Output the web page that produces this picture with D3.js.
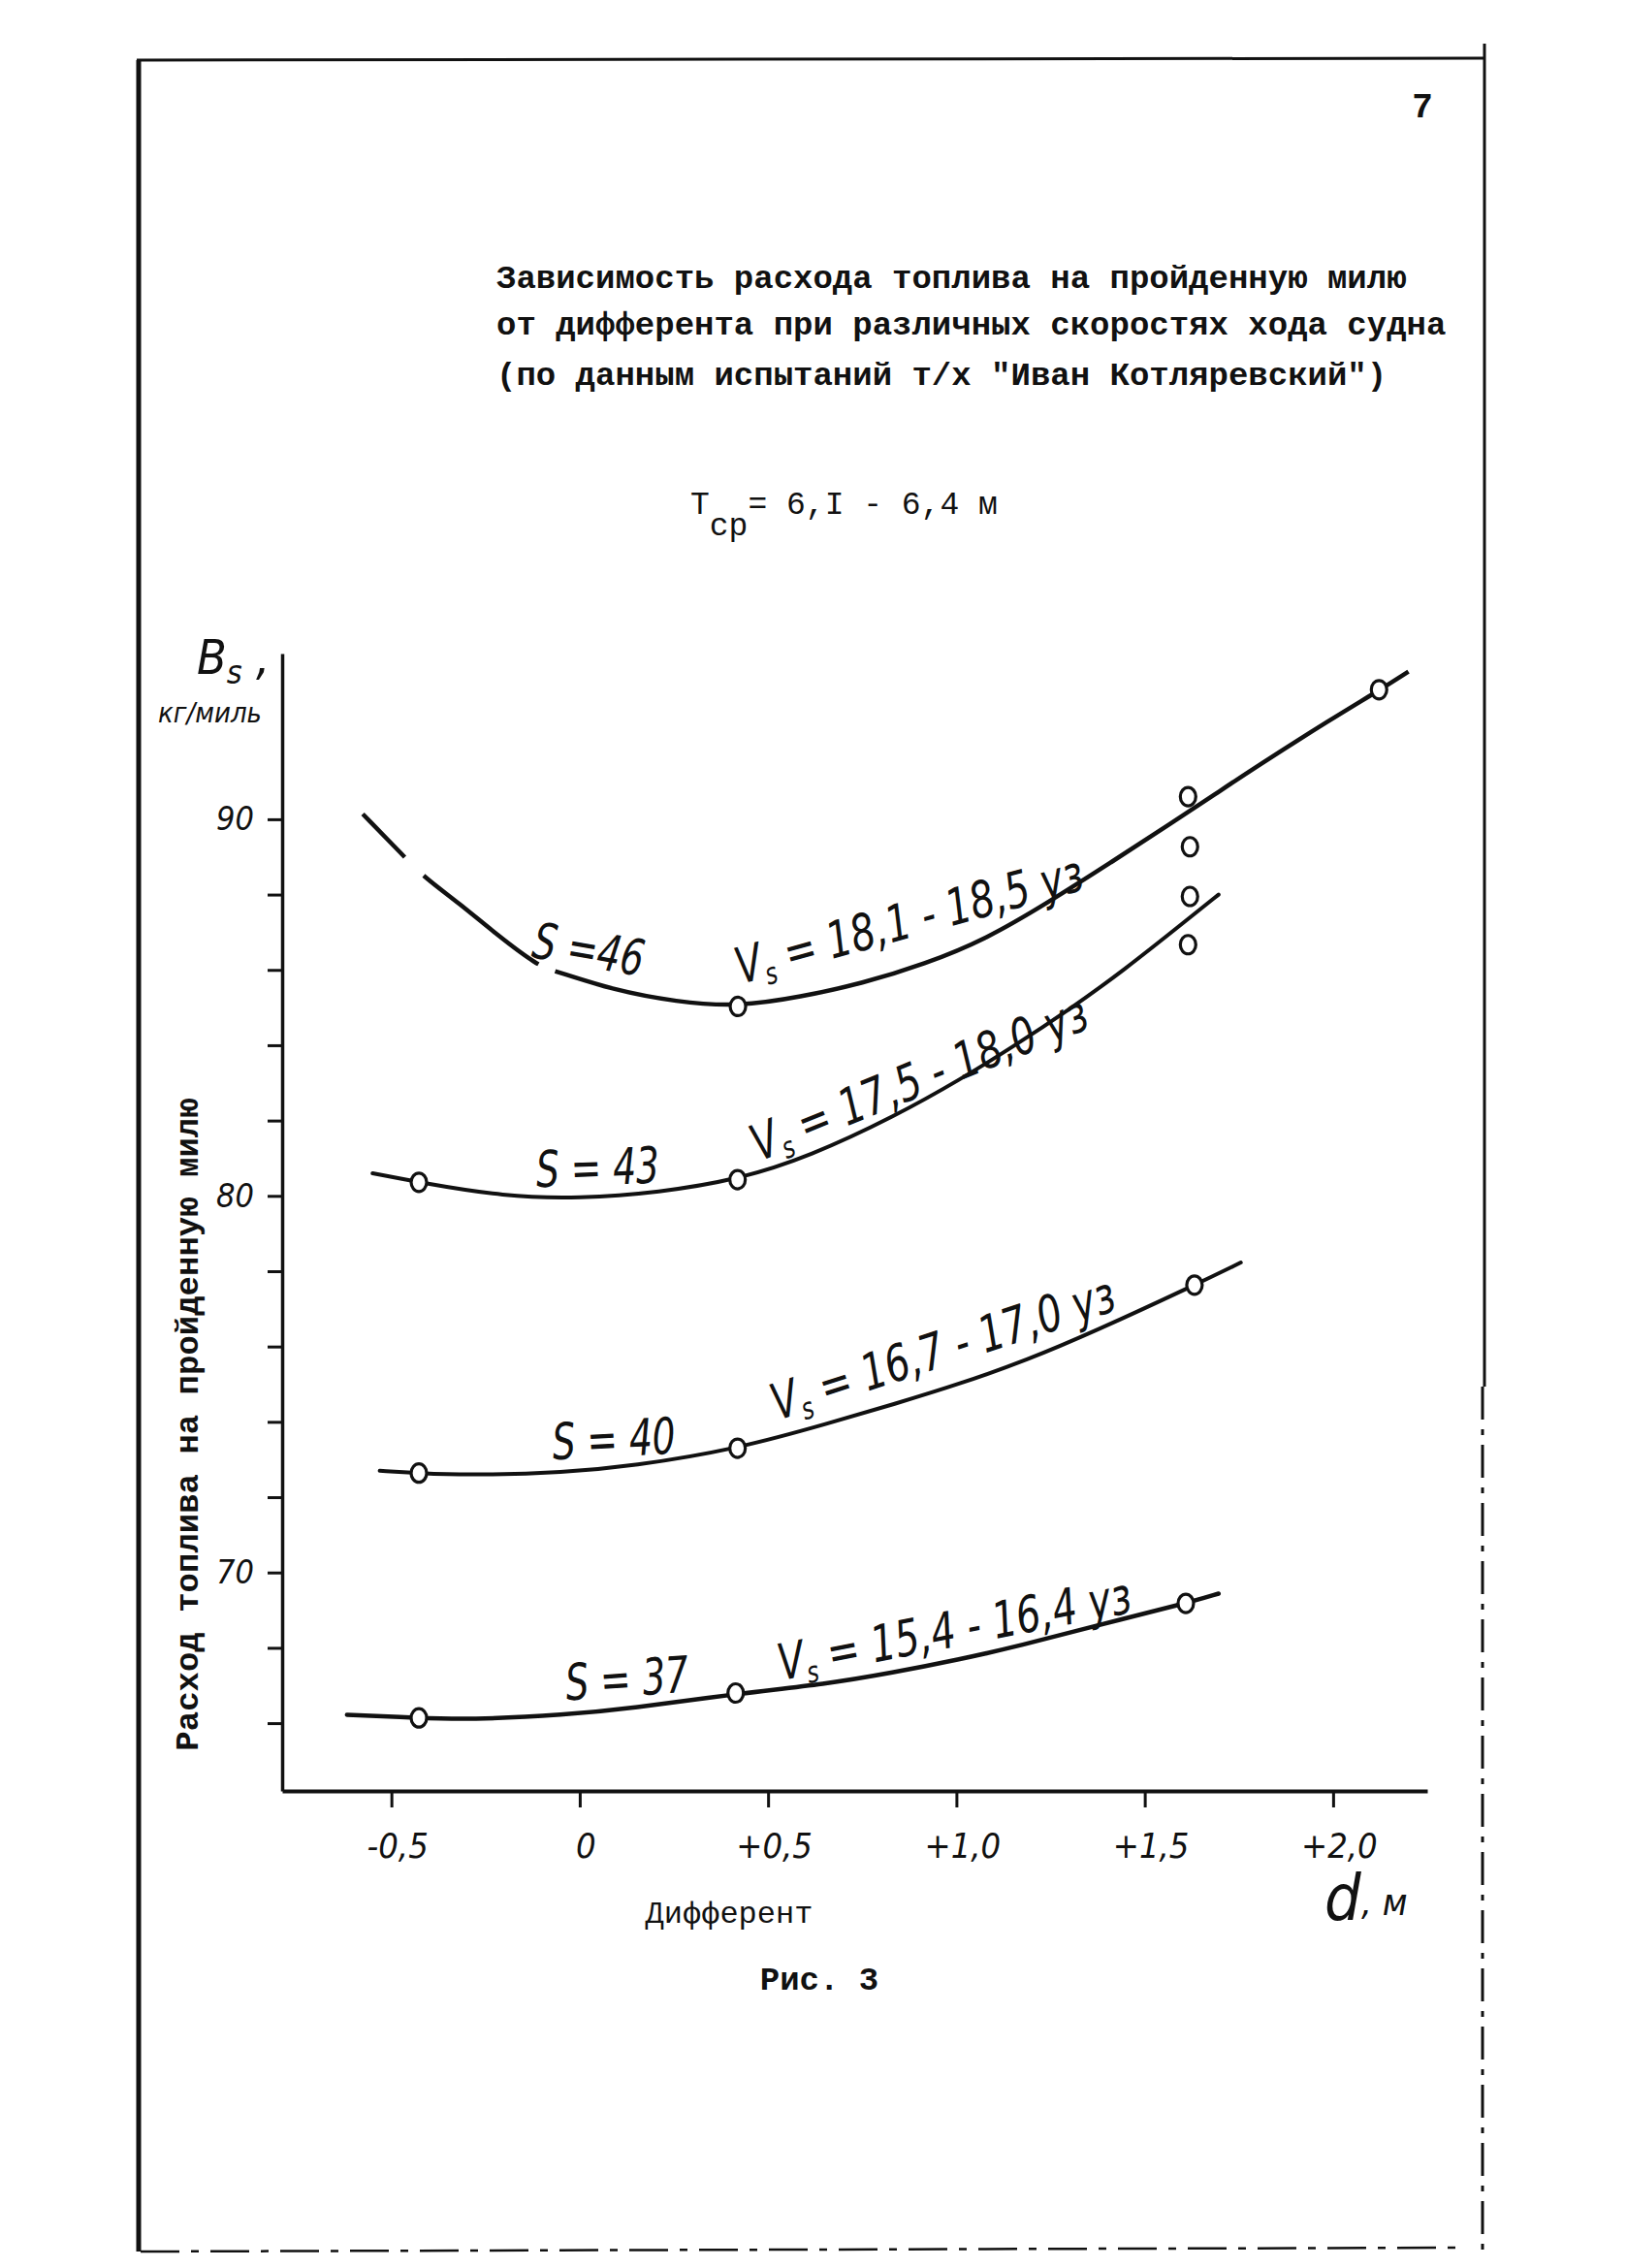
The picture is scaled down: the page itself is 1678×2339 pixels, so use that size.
<!DOCTYPE html>
<html><head><meta charset="utf-8">
<script src="https://cdn.jsdelivr.net/npm/d3@7"></script>
<style>
html,body{margin:0;padding:0;background:#fff;}
svg{display:block;}
.tw{font-family:'Liberation Mono','DejaVu Sans Mono',monospace;font-weight:bold;fill:#111;}
.twn{font-family:'Liberation Mono','DejaVu Sans Mono',monospace;font-weight:normal;fill:#111;}
.hw{font-family:'Liberation Sans Narrow','DejaVu Sans Condensed','Liberation Sans',sans-serif;font-style:italic;fill:#111;}
</style>
</head><body>
<script>
// ---------- data ----------
const titleLines = [
  "Зависимость расхода топлива на пройденную милю",
  "от дифферента при различных скоростях хода судна",
  "(по данным испытаний т/х \"Иван Котляревский\")"
];
const xTickValues = [-0.5, 0, 0.5, 1.0, 1.5, 2.0];
const xTickLabels = ["-0,5", "0", "+0,5", "+1,0", "+1,5", "+2,0"];
const yTickValues = [66, 68, 70, 72, 74, 76, 78, 80, 82, 84, 86, 88, 90];
const yTickLabels = ["", "", "70", "", "", "", "", "80", "", "", "", "", "90"];

// S = 46 (Vs = 18,1 - 18,5 уз)
const s46CurveX = [-0.576, -0.465, -0.414, -0.32, -0.222, -0.11, -0.065, 0.091, 0.256, 0.421, 0.586, 0.75, 0.915, 1.08, 1.245, 1.41, 1.574, 1.686, 1.80, 1.995, 2.122, 2.20];
const s46CurveY = [90.14, 89.0, 88.47, 87.77, 86.95, 86.10, 85.97, 85.46, 85.15, 85.02, 85.28, 85.64, 86.15, 86.82, 87.80, 88.85, 89.92, 90.66, 91.42, 92.66, 93.42, 93.92];
const s46PointX = [0.42, 1.615, 1.62, 2.122];
const s46PointY = [85.03, 90.6, 89.27, 93.44];

// S = 43 (Vs = 17,5 - 18,0 уз)
const s43CurveX = [-0.55, -0.427, -0.2, 0.0, 0.21, 0.419, 0.611, 0.838, 1.012, 1.152, 1.30, 1.442, 1.615, 1.696];
const s43CurveY = [80.6, 80.36, 79.98, 79.93, 80.09, 80.43, 81.05, 82.12, 83.10, 83.97, 84.95, 85.97, 87.35, 88.0];
const s43PointX = [-0.427, 0.419, 1.62, 1.615];
const s43PointY = [80.36, 80.43, 87.95, 86.67];

// S = 40 (Vs = 16,7 - 17,0 уз)
const s40CurveX = [-0.531, -0.427, -0.297, -0.037, 0.136, 0.419, 0.664, 0.838, 1.013, 1.187, 1.362, 1.632, 1.755];
const s40CurveY = [72.70, 72.64, 72.58, 72.66, 72.82, 73.28, 73.97, 74.48, 75.02, 75.64, 76.38, 77.63, 78.23];
const s40PointX = [-0.427, 0.419, 1.632];
const s40PointY = [72.64, 73.30, 77.63];

// S = 37 (Vs = 15,4 - 16,4 уз)
const s37CurveX = [-0.618, -0.427, -0.297, -0.037, 0.136, 0.414, 0.656, 0.83, 1.003, 1.176, 1.35, 1.609, 1.696];
const s37CurveY = [66.22, 66.14, 66.09, 66.22, 66.39, 66.78, 67.04, 67.34, 67.68, 68.07, 68.54, 69.18, 69.44];
const s37PointX = [-0.427, 0.414, 1.609];
const s37PointY = [66.14, 66.80, 69.18];

// ---------- drawing ----------
const W = 1678, H = 2339;
const svg = d3.select("body").append("svg").attr("width", W).attr("height", H);

const x = d3.scaleLinear().domain([-0.79, 2.25]).range([291, 1472]);
const y = d3.scaleLinear().domain([64.2, 94.4]).range([1847, 674]);

// page frame
const frame = svg.append("g").attr("stroke", "#111").attr("fill", "none");
frame.append("line").attr("x1", 143).attr("y1", 62).attr("x2", 143).attr("y2", 2322).attr("stroke-width", 5);
frame.append("line").attr("x1", 141).attr("y1", 62).attr("x2", 1531).attr("y2", 60).attr("stroke-width", 3);
frame.append("line").attr("x1", 1531).attr("y1", 45).attr("x2", 1531).attr("y2", 1430).attr("stroke-width", 3);
frame.append("line").attr("x1", 1529).attr("y1", 1430).attr("x2", 1529).attr("y2", 2330).attr("stroke-width", 3).attr("stroke-dasharray", "34 10 6 10");
frame.append("line").attr("x1", 145).attr("y1", 2322).attr("x2", 1512).attr("y2", 2318).attr("stroke-width", 2.5).attr("stroke-dasharray", "40 12 8 12");

// page number
svg.append("text").attr("class", "tw").attr("x", 1467).attr("y", 121).attr("font-size", 36).attr("text-anchor", "middle").text("7");

// title
const titleBase = [297, 345, 397];
titleLines.forEach((t, i) => {
  svg.append("text").attr("class", "tw").attr("x", 512).attr("y", titleBase[i]).attr("font-size", 34).text(t);
});

// T_cp
const tcp = svg.append("text").attr("class", "twn").attr("x", 712).attr("y", 530).attr("font-size", 33);
tcp.append("tspan").text("T");
tcp.append("tspan").attr("dy", 22).text("ср");
tcp.append("tspan").attr("dy", -22).text("= 6,I - 6,4 м");

// axes
const yAxis = d3.axisLeft(y).tickValues(yTickValues).tickSize(15).tickSizeOuter(0).tickPadding(14)
  .tickFormat((d, i) => yTickLabels[i]);
const gy = svg.append("g").attr("transform", `translate(${x(-0.79)},0)`).call(yAxis);
gy.select(".domain").attr("stroke", "#111").attr("stroke-width", 3.5);
gy.selectAll(".tick line").attr("stroke", "#111").attr("stroke-width", 3);
gy.selectAll(".tick text").attr("class", "hw").attr("font-size", 34).attr("font-family", null).attr("fill", "#111");

const xAxis = d3.axisBottom(x).tickValues(xTickValues).tickSize(17).tickSizeOuter(0).tickPadding(26)
  .tickFormat((d, i) => xTickLabels[i]);
const gx = svg.append("g").attr("transform", `translate(0,${y(64.2)})`).call(xAxis);
gx.select(".domain").attr("stroke", "#111").attr("stroke-width", 4);
gx.selectAll(".tick line").attr("stroke", "#111").attr("stroke-width", 3);
gx.selectAll(".tick text").attr("class", "hw").attr("font-size", 36).attr("font-family", null).attr("fill", "#111").attr("dx", 6);

// axis titles
const bs = svg.append("text").attr("class", "hw").attr("x", 203).attr("y", 695).attr("font-size", 50);
bs.append("tspan").text("B");
bs.append("tspan").attr("dy", 10).attr("font-size", 34).text("s");
bs.append("tspan").attr("dy", -10).text(" ,");
svg.append("text").attr("class", "hw").attr("x", 163).attr("y", 745).attr("font-size", 29).text("кг/миль");

svg.append("text").attr("class", "tw").attr("font-size", 34).attr("text-anchor", "middle")
  .attr("transform", "translate(204,1469) rotate(-90)").text("Расход топлива на пройденную милю");

svg.append("text").attr("class", "hw").attr("x", 1366).attr("y", 1980).attr("font-size", 66).text("d");
svg.append("text").attr("class", "hw").attr("x", 1404).attr("y", 1975).attr("font-size", 38).text(", м");

svg.append("text").attr("class", "twn").attr("font-size", 32).attr("text-anchor", "middle").attr("x", 752).attr("y", 1983).text("Дифферент");
svg.append("text").attr("class", "tw").attr("font-size", 34).attr("text-anchor", "middle").attr("x", 845).attr("y", 2052).text("Рис. 3");

// curves
const line = d3.line().x(d => x(d[0])).y(d => y(d[1])).curve(d3.curveBasis);
const series = [
  {cx: s46CurveX, cy: s46CurveY, px: s46PointX, py: s46PointY, w: 4.5, gaps: [[-0.465, -0.414], [-0.11, -0.065]]},
  {cx: s43CurveX, cy: s43CurveY, px: s43PointX, py: s43PointY, w: 4, gaps: []},
  {cx: s40CurveX, cy: s40CurveY, px: s40PointX, py: s40PointY, w: 4, gaps: []},
  {cx: s37CurveX, cy: s37CurveY, px: s37PointX, py: s37PointY, w: 4.5, gaps: []}
];
series.forEach(s => {
  const pts = s.cx.map((v, i) => [v, s.cy[i]]);
  const p = svg.append("path").attr("d", line(pts)).attr("fill", "none").attr("stroke", "#111")
    .attr("stroke-width", s.w).attr("stroke-linecap", "round");
  if (s.gaps.length) {
    const node = p.node(), L = node.getTotalLength();
    const lenAt = px => { let lo = 0, hi = L; for (let k = 0; k < 40; k++) { const m = (lo + hi) / 2; if (node.getPointAtLength(m).x < px) lo = m; else hi = m; } return lo; };
    const arr = []; let pos = 0;
    s.gaps.forEach(([a, b]) => { const la = lenAt(x(a)), lb = lenAt(x(b)); arr.push(la - pos, lb - la); pos = lb; });
    arr.push(L - pos + 20, 0);
    p.attr("stroke-dasharray", arr.join(" ")).attr("stroke-linecap", "butt");
  }
});
series.forEach(s => {
  svg.append("g").selectAll("ellipse").data(s.px.map((v, i) => [v, s.py[i]])).join("ellipse")
    .attr("cx", d => x(d[0])).attr("cy", d => y(d[1])).attr("rx", 8).attr("ry", 9.5)
    .attr("fill", "#fff").attr("stroke", "#111").attr("stroke-width", 3.2);
});

// curve labels
function sLabel(txt, cx, cy, rot) {
  svg.append("text").attr("class", "hw").attr("font-size", 44).attr("text-anchor", "middle")
    .attr("transform", `translate(${cx},${cy}) rotate(${rot}) scale(0.95,1.18)`).text(txt);
}
function vLabel(range, sx, sy, rot) {
  const t = svg.append("text").attr("class", "hw").attr("font-size", 44)
    .attr("transform", `translate(${sx},${sy}) rotate(${rot}) scale(1,1.18)`);
  t.append("tspan").text("V");
  t.append("tspan").attr("dy", 7).attr("font-size", 26).text("s");
  t.append("tspan").attr("dy", -7).text(" = " + range);
}
sLabel("S =46", 604, 997, 10);
vLabel("18,1 - 18,5 уз", 764, 1015, -15.4);
sLabel("S = 43", 617, 1222, -2);
vLabel("17,5 - 18,0 уз", 783, 1198, -22);
sLabel("S = 40", 634, 1502, -3);
vLabel("16,7 - 17,0 уз", 802, 1465, -18);
sLabel("S = 37", 648, 1749, -4);
vLabel("15,4 - 16,4 уз", 806, 1733, -11);
</script>
</body></html>
